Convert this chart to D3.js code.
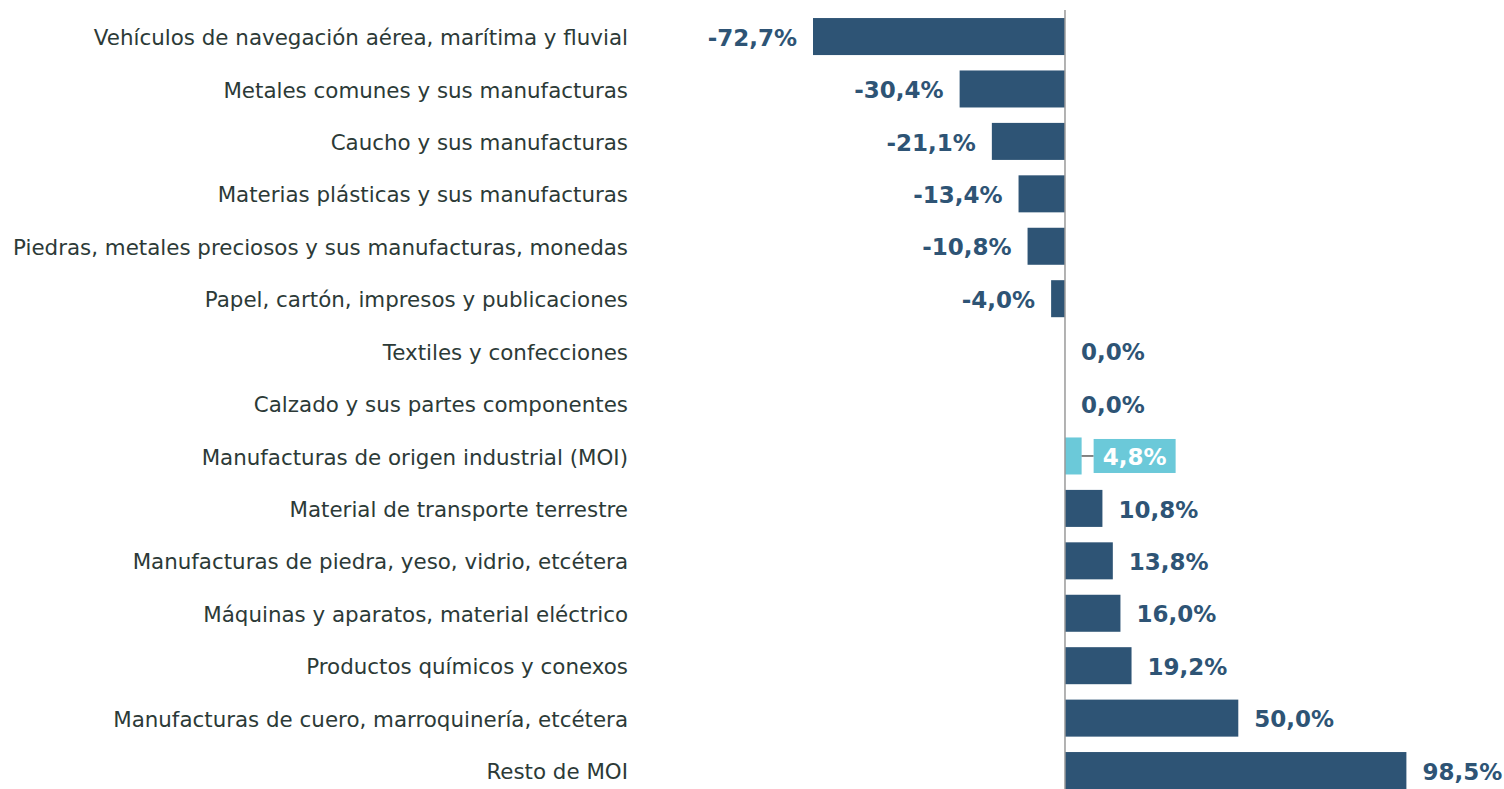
<!DOCTYPE html>
<html>
<head>
<meta charset="utf-8">
<script src="https://cdn.jsdelivr.net/npm/d3@7"></script>
<style>
  body { margin: 0; background: white; }
  text { font-family: "DejaVu Sans", Verdana, sans-serif; }
</style>
</head>
<body>
<div id="chart"></div>
<script>
var categories = [
  "Vehículos de navegación aérea, marítima y fluvial",
  "Metales comunes y sus manufacturas",
  "Caucho y sus manufacturas",
  "Materias plásticas y sus manufacturas",
  "Piedras, metales preciosos y sus manufacturas, monedas",
  "Papel, cartón, impresos y publicaciones",
  "Textiles y confecciones",
  "Calzado y sus partes componentes",
  "Manufacturas de origen industrial (MOI)",
  "Material de transporte terrestre",
  "Manufacturas de piedra, yeso, vidrio, etcétera",
  "Máquinas y aparatos, material eléctrico",
  "Productos químicos y conexos",
  "Manufacturas de cuero, marroquinería, etcétera",
  "Resto de MOI"
];
var values = [-72.7, -30.4, -21.1, -13.4, -10.8, -4.0, 0.0, 0.0, 4.8, 10.8, 13.8, 16.0, 19.2, 50.0, 98.5];
var highlight = "Manufacturas de origen industrial (MOI)";

var width = 1504, height = 789;
var dark = "#2e5475", light = "#6bc9d9", textColor = "#2c3a37";

var svg = d3.select("#chart").append("svg")
  .attr("width", width)
  .attr("height", height);

var data = categories.map(function (c, i) { return { cat: c, val: values[i] }; });

var x = d3.scaleLinear().domain([-72.7, 98.5]).range([813, 1406.4]);
var y = d3.scaleBand().domain(categories).range([12.8, 794.3]).paddingInner(0.294).paddingOuter(0.1);

var fmt = function (v) { return v.toFixed(1).replace(".", ",") + "%"; };

// barras
svg.selectAll("rect.bar").data(data).enter().append("rect")
  .attr("class", "bar")
  .attr("x", function (d) { return x(Math.min(0, d.val)); })
  .attr("y", function (d) { return y(d.cat); })
  .attr("width", function (d) { return Math.abs(x(d.val) - x(0)); })
  .attr("height", y.bandwidth())
  .attr("fill", function (d) { return d.cat === highlight ? light : dark; });

// eje vertical
svg.append("line")
  .attr("x1", x(0)).attr("x2", x(0))
  .attr("y1", 10).attr("y2", height)
  .attr("stroke", "#999").attr("stroke-width", 1.5);

// etiquetas de categoria
svg.selectAll("text.cat").data(data).enter().append("text")
  .attr("class", "cat")
  .attr("x", 628)
  .attr("y", function (d) { return y(d.cat) + y.bandwidth() / 2; })
  .attr("dy", "0.4em")
  .attr("text-anchor", "end")
  .attr("font-size", 21.4)
  .attr("fill", textColor)
  .text(function (d) { return d.cat; });

// etiquetas de valor
var normal = data.filter(function (d) { return d.cat !== highlight; });
svg.selectAll("text.val").data(normal).enter().append("text")
  .attr("class", "val")
  .attr("x", function (d) { return d.val < 0 ? x(d.val) - 16 : x(d.val) + 16; })
  .attr("y", function (d) { return y(d.cat) + y.bandwidth() / 2; })
  .attr("dy", "0.4em")
  .attr("text-anchor", function (d) { return d.val < 0 ? "end" : "start"; })
  .attr("font-size", 23)
  .attr("font-weight", "bold")
  .attr("fill", dark)
  .text(function (d) { return fmt(d.val); });

// etiqueta destacada con recuadro
var hd = data.filter(function (d) { return d.cat === highlight; })[0];
var cy = y(hd.cat) + y.bandwidth() / 2;
var bx = x(hd.val) + 12;
svg.append("line")
  .attr("x1", x(hd.val)).attr("x2", bx)
  .attr("y1", cy).attr("y2", cy)
  .attr("stroke", "#333").attr("stroke-width", 1.2);
svg.append("rect")
  .attr("x", bx).attr("y", cy - 17)
  .attr("width", 82).attr("height", 34)
  .attr("fill", light);
svg.append("text")
  .attr("x", bx + 41).attr("y", cy)
  .attr("dy", "0.4em")
  .attr("text-anchor", "middle")
  .attr("font-size", 23)
  .attr("font-weight", "bold")
  .attr("fill", "white")
  .text(fmt(hd.val));
</script>
</body>
</html>
